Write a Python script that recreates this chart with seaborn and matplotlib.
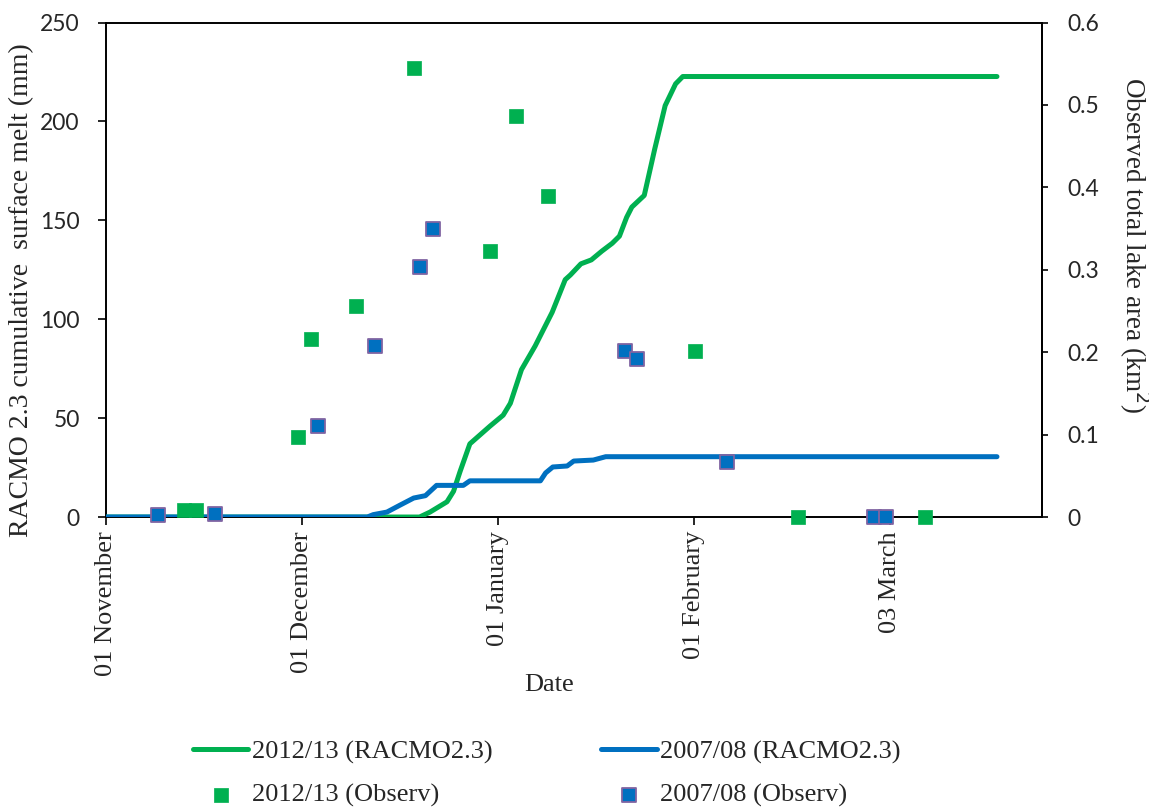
import numpy as np
import pandas as pd
import matplotlib
matplotlib.use("Agg")
import matplotlib.pyplot as plt
import seaborn as sns

# ─────────────────────────────────────────────
# DATA  (days since 01 November)
# ─────────────────────────────────────────────
GREEN_LINE_DAY = [0, 48, 49.6, 52.2, 53.2, 54.2, 55.7, 58.8, 60.8, 61.9, 63.6,
                  65.7, 68.3, 70.3, 71.1, 72.7, 74.3, 75.9, 77.5, 78.6, 79.7,
                  80.5, 82.4, 84.0, 85.6, 87.2, 88.3, 136.4]
GREEN_LINE_MM = [0, 0, 2.5, 7.7, 13, 23, 37, 46, 51.5, 57.5, 74.5,
                 86.5, 103.5, 120, 122.4, 128, 130, 134.4, 138.4, 142, 151.5,
                 156.7, 162.6, 186, 208, 219, 222.7, 222.7]

BLUE_LINE_DAY = [0, 40, 40.9, 43, 45, 47.1, 48.9, 50.6, 54.7, 55.7, 66.5,
                 67.3, 68.4, 70.6, 71.6, 74.6, 76.5, 136.4]
BLUE_LINE_MM = [0, 0, 1.2, 2.5, 6, 9.6, 10.8, 16, 16, 18.3, 18.3,
                22.3, 25.3, 25.8, 28.3, 28.8, 30.5, 30.5]

GREEN_OBS_DAY = [11.9, 13.7, 29.4, 31.4, 38.2, 47.1, 58.8, 62.8, 67.6, 90.2, 105.9, 125.4]
GREEN_OBS_KM2 = [0.008, 0.008, 0.097, 0.216, 0.256, 0.545, 0.323, 0.486, 0.389, 0.202, 0, 0]

BLUE_OBS_DAY = [7.9, 16.7, 32.4, 41.2, 48.0, 50.0, 79.4, 81.3, 95.0, 117.6, 119.4]
BLUE_OBS_KM2 = [0.003, 0.004, 0.111, 0.2075, 0.303, 0.35, 0.202, 0.192, 0.067, 0, 0]

TICK_DAYS = [0, 30, 60, 90, 120]
TICK_LABELS = ["01 November", "01 December", "01 January", "01 February", "03 March"]
LEFT_TICKS = [0, 50, 100, 150, 200, 250]
RIGHT_TICKS = [0, 0.1, 0.2, 0.3, 0.4, 0.5, 0.6]
RIGHT_LABELS = ["0", "0.1", "0.2", "0.3", "0.4", "0.5", "0.6"]

GREEN = "#00B050"
BLUE = "#0070C0"
PURPLE = "#8064A2"
SERIF = ["Liberation Serif", "DejaVu Serif"]
SANS = ["Lato", "DejaVu Sans"]

# ─────────────────────────────────────────────
# PLOT
# ─────────────────────────────────────────────
sns.set_style("ticks")
plt.rcParams["font.family"] = SERIF

fig, ax = plt.subplots(figsize=(11.49, 8.10), dpi=100)
fig.subplots_adjust(left=0.0923, right=0.9069, top=0.9722, bottom=0.3617)
ax2 = ax.twinx()

sns.lineplot(x=GREEN_LINE_DAY, y=GREEN_LINE_MM, ax=ax, color=GREEN, lw=3.6,
             sort=False, label="2012/13 (RACMO2.3)", solid_capstyle="round",
             zorder=3)
sns.lineplot(x=BLUE_LINE_DAY, y=BLUE_LINE_MM, ax=ax, color=BLUE, lw=3.6,
             sort=False, label="2007/08 (RACMO2.3)", solid_capstyle="round",
             zorder=4)

sns.scatterplot(x=GREEN_OBS_DAY, y=GREEN_OBS_KM2, ax=ax2, marker="s", s=112,
                color=GREEN, edgecolor=GREEN, linewidth=0.5, clip_on=False,
                label="2012/13 (Observ)", zorder=5)
sns.scatterplot(x=BLUE_OBS_DAY, y=BLUE_OBS_KM2, ax=ax2, marker="s", s=112,
                color=BLUE, edgecolor=PURPLE, linewidth=1.3, clip_on=False,
                label="2007/08 (Observ)", zorder=5)

for a in (ax, ax2):
    if a.get_legend() is not None:
        a.get_legend().remove()

ax.set_xlim(0, 143.3)
ax.set_ylim(0, 250)
ax2.set_ylim(0, 0.6)

ax.set_xticks(TICK_DAYS)
ax.set_xticklabels(TICK_LABELS, rotation=90, fontsize=19, family=SERIF)
ax.set_yticks(LEFT_TICKS)
ax.set_yticklabels([str(v) for v in LEFT_TICKS], fontsize=16.5, family=SANS)
ax2.set_yticks(RIGHT_TICKS)
ax2.set_yticklabels(RIGHT_LABELS, fontsize=16.5, family=SANS)

# box drawn by the first axes, the twin only keeps its right spine
for s in ax.spines.values():
    s.set_visible(True)
    s.set_linewidth(1.4)
    s.set_color("black")
for name, s in ax2.spines.items():
    s.set_visible(name == "right")
    s.set_linewidth(1.4)
    s.set_color("black")
ax.tick_params(axis="both", direction="out", length=6, width=1.4, pad=4)
ax.tick_params(axis="y", pad=13)
ax2.tick_params(axis="y", direction="out", length=4, width=1.4, pad=14)

ax.set_xlabel("Date", fontsize=19, family=SERIF)
ax.xaxis.set_label_coords(0.473, -0.317)
ax.set_ylabel("RACMO 2.3 cumulative  surface melt (mm)", fontsize=20, family=SERIF)
ax.yaxis.set_label_coords(-0.077, 0.458)
ax2.set_ylabel("Observed total lake area (km$^2$)", fontsize=19.5, family=SERIF,
               rotation=270, va="bottom")
ax2.yaxis.set_label_coords(1.080, 0.549)

h1, l1 = ax.get_legend_handles_labels()
h2, l2 = ax2.get_legend_handles_labels()
handles = [h1[0], h2[0], h1[1], h2[1]]
labels = [l1[0], l2[0], l1[1], l2[1]]
fig.legend(handles, labels, ncol=2, loc="center", bbox_to_anchor=(0.476, 0.045),
           frameon=False, prop={"family": SERIF, "size": 19},
           handlelength=2.1, handletextpad=0.15, columnspacing=4.1,
           labelspacing=0.75)

fig.savefig("out.png", dpi=100)
